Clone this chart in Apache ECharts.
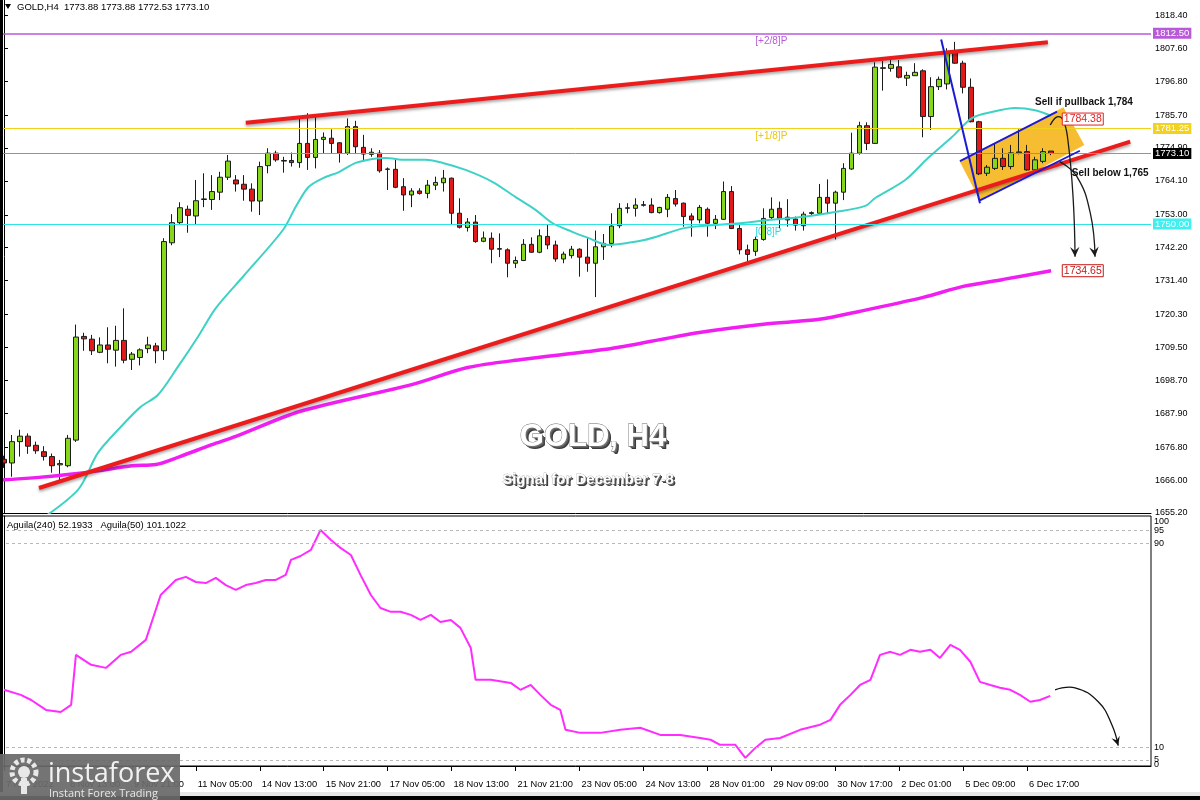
<!DOCTYPE html>
<html><head><meta charset="utf-8">
<script src="https://cdn.jsdelivr.net/npm/echarts@6/dist/echarts.min.js"></script>
<style>html,body{margin:0;padding:0;background:#fff}#c{width:1200px;height:800px}</style>
</head><body><div id="c"></div>
<script>
// ---------- DATA ----------
const times = [
'7 Nov 05:00','7 Nov 09:00','7 Nov 13:00','7 Nov 17:00','7 Nov 21:00',
'8 Nov 01:00','8 Nov 05:00','8 Nov 09:00','8 Nov 13:00','8 Nov 17:00','8 Nov 21:00',
'9 Nov 01:00','9 Nov 05:00','9 Nov 09:00','9 Nov 13:00','9 Nov 17:00','9 Nov 21:00',
'10 Nov 01:00','10 Nov 05:00','10 Nov 09:00','10 Nov 13:00','10 Nov 17:00','10 Nov 21:00',
'11 Nov 01:00','11 Nov 05:00','11 Nov 09:00','11 Nov 13:00','11 Nov 17:00','11 Nov 21:00',
'14 Nov 01:00','14 Nov 05:00','14 Nov 09:00','14 Nov 13:00','14 Nov 17:00','14 Nov 21:00',
'15 Nov 01:00','15 Nov 05:00','15 Nov 09:00','15 Nov 13:00','15 Nov 17:00','15 Nov 21:00',
'16 Nov 01:00','16 Nov 05:00','16 Nov 09:00','16 Nov 13:00','16 Nov 17:00','16 Nov 21:00',
'17 Nov 01:00','17 Nov 05:00','17 Nov 09:00','17 Nov 13:00','17 Nov 17:00','17 Nov 21:00',
'18 Nov 01:00','18 Nov 05:00','18 Nov 09:00','18 Nov 13:00','18 Nov 17:00','18 Nov 21:00',
'21 Nov 01:00','21 Nov 05:00','21 Nov 09:00','21 Nov 13:00','21 Nov 17:00','21 Nov 21:00',
'22 Nov 01:00','22 Nov 05:00','22 Nov 09:00','22 Nov 13:00','22 Nov 17:00','22 Nov 21:00',
'23 Nov 01:00','23 Nov 05:00','23 Nov 09:00','23 Nov 13:00','23 Nov 17:00','23 Nov 21:00',
'24 Nov 01:00','24 Nov 05:00','24 Nov 09:00','24 Nov 13:00','24 Nov 17:00','24 Nov 21:00',
'25 Nov 01:00','25 Nov 05:00','25 Nov 09:00','25 Nov 13:00','25 Nov 17:00',
'28 Nov 01:00','28 Nov 05:00','28 Nov 09:00','28 Nov 13:00','28 Nov 17:00','28 Nov 21:00',
'29 Nov 01:00','29 Nov 05:00','29 Nov 09:00','29 Nov 13:00','29 Nov 17:00','29 Nov 21:00',
'30 Nov 01:00','30 Nov 05:00','30 Nov 09:00','30 Nov 13:00','30 Nov 17:00','30 Nov 21:00',
'1 Dec 01:00','1 Dec 05:00','1 Dec 09:00','1 Dec 13:00','1 Dec 17:00','1 Dec 21:00',
'2 Dec 01:00','2 Dec 05:00','2 Dec 09:00','2 Dec 13:00','2 Dec 17:00','2 Dec 21:00',
'5 Dec 01:00','5 Dec 05:00','5 Dec 09:00','5 Dec 13:00','5 Dec 17:00','5 Dec 21:00',
'6 Dec 01:00','6 Dec 05:00','6 Dec 09:00','6 Dec 13:00','6 Dec 17:00','6 Dec 21:00',
'7 Dec 01:00','7 Dec 05:00'
];
const futureSlots = ['f1','f2','f3','f4','f5','f6','f7','f8','f9','f10','f11','f12'];
const tickLabels = ['7 Nov 2022','8 Nov 13:00','9 Nov 21:00','11 Nov 05:00','14 Nov 13:00','15 Nov 21:00',
'17 Nov 05:00','18 Nov 13:00','21 Nov 21:00','23 Nov 05:00','24 Nov 13:00','28 Nov 01:00',
'29 Nov 09:00','30 Nov 17:00','2 Dec 01:00','5 Dec 09:00','6 Dec 17:00'];
// [open, high, low, close]
const ohlc = [
[1672.8,1674.0,1670.0,1671.6],[1671.6,1680.8,1667.1,1678.6],[1678.6,1682.5,1673.7,1680.4],[1680.4,1681.3,1674.6,1677.1],
[1677.4,1678.6,1674.6,1675.6],[1675.3,1677.1,1672.4,1673.7],[1673.7,1674.7,1668.4,1670.7],[1671.0,1672.6,1666.0,1671.4],
[1670.7,1680.8,1670.2,1679.7],[1679.1,1717.0,1678.5,1712.9],[1713.1,1714.3,1708.4,1712.3],[1712.2,1713.6,1707.0,1708.4],
[1707.9,1712.8,1707.6,1710.3],[1710.3,1716.1,1704.3,1708.9],[1708.6,1716.6,1703.2,1711.8],[1711.8,1722.3,1704.3,1705.3],
[1705.6,1708.0,1702.1,1707.3],[1706.2,1709.2,1703.6,1708.7],[1709.1,1713.0,1707.6,1710.3],[1710.0,1711.0,1704.3,1708.4],
[1708.4,1745.3,1705.4,1744.2],[1743.8,1753.2,1743.0,1750.4],[1750.4,1757.1,1750.0,1755.3],[1754.8,1756.0,1747.1,1752.8],
[1752.6,1764.4,1749.7,1757.6],[1758.0,1766.6,1755.5,1758.2],[1758.0,1766.0,1754.6,1760.6],[1760.4,1767.1,1757.8,1765.3],
[1765.3,1772.6,1764.4,1770.6],[1764.4,1766.0,1760.6,1763.1],[1763.0,1766.0,1757.6,1761.4],[1761.4,1763.3,1754.0,1757.5],
[1757.5,1770.4,1752.9,1768.8],[1769.1,1774.8,1766.6,1773.2],[1773.2,1774.0,1770.4,1771.0],[1770.6,1772.0,1766.8,1770.8],
[1770.8,1773.4,1768.8,1770.1],[1770.1,1784.6,1768.4,1776.4],[1776.4,1786.3,1767.7,1771.8],[1771.8,1785.2,1768.2,1777.7],
[1777.7,1780.0,1773.2,1778.4],[1778.1,1781.0,1773.2,1776.4],[1776.6,1776.8,1770.1,1773.2],[1773.2,1784.6,1772.6,1781.9],
[1781.9,1783.8,1772.9,1775.3],[1775.1,1779.2,1770.4,1772.9],[1772.8,1774.8,1772.0,1773.5],[1773.2,1774.2,1766.8,1767.4],
[1768.0,1768.5,1761.1,1767.9],[1767.9,1771.0,1761.7,1762.0],[1762.2,1765.0,1754.3,1759.5],[1759.5,1761.7,1755.5,1760.8],
[1760.8,1761.7,1759.6,1760.0],[1760.0,1764.4,1758.4,1762.7],[1762.7,1765.5,1761.1,1763.6],[1763.5,1767.7,1760.6,1765.0],
[1765.0,1765.2,1749.7,1753.5],[1753.5,1758.4,1748.5,1748.9],[1748.8,1751.9,1747.5,1750.6],[1750.6,1752.9,1743.8,1744.2],
[1744.3,1747.5,1744.0,1745.4],[1745.3,1747.2,1737.1,1741.7],[1741.7,1746.9,1739.1,1741.9],[1741.5,1742.0,1732.5,1737.1],
[1737.1,1739.3,1735.5,1738.0],[1738.0,1745.0,1737.8,1743.3],[1743.3,1745.6,1740.5,1740.7],[1740.7,1748.2,1740.4,1746.1],
[1745.9,1749.7,1741.7,1743.1],[1743.1,1744.5,1737.6,1738.5],[1738.5,1740.9,1737.1,1740.1],[1739.6,1742.8,1738.7,1741.7],
[1741.7,1742.0,1732.7,1739.1],[1739.1,1745.3,1734.3,1737.1],[1737.1,1747.8,1726.0,1742.5],[1742.5,1746.7,1738.2,1743.6],
[1743.6,1753.5,1742.3,1749.3],[1749.4,1756.8,1748.6,1755.1],[1755.1,1756.8,1753.5,1755.3],[1755.1,1758.4,1752.4,1756.2],
[1756.3,1757.5,1755.7,1756.1],[1756.2,1758.4,1753.5,1753.7],[1753.7,1755.6,1753.4,1755.4],[1754.8,1759.8,1752.2,1758.7],
[1758.3,1761.1,1755.7,1756.5],[1756.8,1757.0,1749.1,1752.4],[1752.6,1753.5,1745.8,1751.3],[1751.3,1756.2,1750.2,1755.4],
[1754.8,1755.4,1745.8,1750.2],[1750.2,1752.9,1748.3,1751.5],[1751.5,1763.9,1751.3,1760.6],[1760.6,1762.4,1748.3,1748.5],
[1748.5,1749.8,1740.0,1741.5],[1741.5,1743.2,1737.8,1740.0],[1741.0,1745.8,1739.5,1744.9],[1744.9,1755.1,1744.5,1751.8],
[1752.1,1758.7,1751.3,1754.8],[1755.1,1757.3,1748.6,1751.8],[1752.2,1758.1,1749.1,1751.3],[1751.6,1752.4,1747.8,1749.6],
[1749.4,1754.0,1747.8,1753.2],[1753.4,1754.1,1752.9,1753.7],[1753.5,1763.1,1752.9,1758.7],[1758.7,1764.6,1753.2,1756.8],
[1756.8,1760.9,1744.9,1760.4],[1760.4,1769.9,1757.8,1768.2],[1768.0,1779.9,1767.7,1773.2],[1773.2,1783.5,1772.7,1782.2],
[1782.2,1783.3,1774.2,1776.4],[1776.4,1803.0,1776.2,1801.4],[1801.0,1803.5,1793.7,1801.2],[1801.0,1803.7,1799.9,1802.3],
[1801.5,1803.7,1797.7,1798.1],[1797.8,1799.9,1795.2,1798.7],[1798.6,1802.7,1798.5,1799.7],[1800.2,1800.7,1778.4,1785.2],
[1785.2,1798.1,1780.8,1795.0],[1795.0,1798.3,1793.9,1797.4],[1795.9,1807.6,1794.1,1806.5],[1806.5,1809.7,1802.5,1802.7],
[1802.7,1803.5,1792.8,1794.8],[1794.8,1797.7,1783.3,1783.5],[1783.5,1783.8,1766.0,1766.4],[1766.6,1769.3,1765.7,1768.6],
[1768.2,1776.2,1767.7,1771.5],[1771.5,1774.8,1767.7,1768.8],[1768.8,1775.9,1767.9,1773.3],[1773.3,1781.0,1772.8,1773.6],
[1773.7,1775.9,1767.5,1767.7],[1767.7,1772.0,1767.1,1771.0],[1770.5,1774.8,1769.9,1773.7],[1773.88,1773.88,1772.53,1773.10]
];
// moving averages: [bar index, price]
const maFast = [[4,1652],[9.25,1662.8],[11.75,1674.9],[14.6,1683.4],[17.1,1690],[19.25,1693.9],[21.75,1703.1],
[24.25,1712.9],[26.5,1722.4],[30,1733],[34.9,1748],[36.5,1755.6],[38.1,1762.1],[40,1765.1],[41.9,1767],[44,1770],
[46.1,1771.3],[47.75,1771.6],[50.25,1771],[52.75,1771],[54.9,1770],[57.75,1767.7],[61.1,1763.8],[64,1758.8],
[66.5,1754.6],[68.6,1750.3],[71.1,1747.4],[73.1,1745.4],[75.6,1743.1],[78.1,1743.8],[80.25,1744.8],[81.5,1745.7],
[85.25,1748.7],[89.4,1749.7],[92.4,1750.3],[95.6,1751.3],[99.9,1752.3],[104,1753.9],[107.75,1755.9],[109,1758.5],
[112.75,1764.4],[115.6,1771.6],[118.6,1778.5],[121.1,1784.7],[123.6,1786.7],[126.5,1788],[129,1787.3],[131,1785.5]];
const maSlow = [[-0.5,1666.0],[4,1666.8],[8,1667.8],[12,1669.1],[16,1670.7],[19,1671.1],[22,1673.7],[26,1677.6],
[29,1680.3],[37,1688.5],[51,1697.3],[58,1702.9],[65,1705.6],[75,1708.8],[81,1711.5],[87,1714.4],[95,1717.1],
[102,1718.7],[107,1721.3],[115,1725.9],[120,1729.5],[125,1731.8],[131,1734.65]];
// oscillator (Aguila): [bar index, value]
const aguila = [[0,32.5],[2.1,30.5],[3.4,28.5],[5.25,24.6],[7.1,23.8],[8.4,26.6],[9,46.2],[10.9,42.3],[12.75,41.1],
[14.6,46.2],[15.9,47.4],[17.75,52.1],[19.6,69.7],[21.5,75.6],[22.75,76.8],[24,74.8],[25.25,74.4],[26.5,76.4],
[27.75,73.6],[29,71.7],[30.25,73.6],[31.5,74.4],[32.75,75.6],[34,75.6],[35.25,77.6],[35.9,83.5],[37.1,85.0],
[38.4,87.4],[39.6,95.2],[40.9,91.3],[42.1,88.2],[43.4,85.4],[44.6,77.6],[45.9,69.7],[47.1,64.6],[48.4,63.1],
[49.6,63.1],[50.9,61.9],[52.1,59.9],[53.4,61.9],[54.6,59.1],[55.9,59.9],[57.1,56.8],[58.4,48.9],[59,36.4],
[60.9,36.4],[63.4,35.2],[64.6,32.5],[65.9,34.4],[67.1,30.5],[68.4,26.6],[69.6,24.6],[70.25,16.8],[72.1,15.6],
[74.6,15.6],[77.1,16.8],[79.6,17.6],[82.1,14.8],[84.6,14.8],[87.1,13.6],[88.4,12.9],[89.6,10.9],[91.5,10.9],
[92.75,5.8],[94,9.7],[95.25,12.9],[97.1,13.6],[99.6,16.8],[102.1,18.8],[103.4,20.7],[104.6,26.6],[105.9,30.5],
[107.1,34.4],[108.4,36.4],[109.6,46.2],[110.9,47.4],[112.1,46.2],[113.4,48.2],[114.6,47.4],[115.9,48.2],
[117.1,45.0],[118.4,50.1],[119.6,48.2],[120.9,43.5],[122.1,35.6],[123.4,34.4],[124.6,33.3],[125.9,32.5],
[127.1,30.5],[128.4,27.8],[129.6,28.5],[130.9,30.1]];
const priceTicks = [1818.40,1807.60,1796.80,1785.70,1774.90,1764.10,1753.00,1742.20,1731.40,1720.30,1709.50,1698.70,1687.90,1676.80,1666.00,1655.20];
const oscLevels = [100,95,90,10,5,0];
const oscDashed = [95,90,10,5];
const levelValues = [1812.50,1781.25,1750.00];
const levelNames = ['[+2/8]P','[+1/8]P','[0/8]P'];
const lastPrice = 1773.10;
const header = 'GOLD,H4  1773.88 1773.88 1772.53 1773.10';
const subHeader = 'Aguila(240) 52.1933   Aguila(50) 101.1022';
// drawings: [bar index, price]
const upperTrend = [[30.25,1783.2],[130.6,1809.6]];
const lowerTrend = [[4.375,1663.4],[140.9,1776.96]];
const blueDrop = [[117.25,1810.5],[122.1,1756.8]];
const channelTop = [[119.6,1770.6],[131.75,1786.8]];
const channelBottom = [[122.1,1757.7],[134.6,1774.0]];
const flagBox = [[119.54,1770.63],[132.54,1788.24],[135.16,1775.88],[122.13,1757.58]];
const arrowA = [[130.9,1782.4],[131.75,1785.1],[132.5,1784.1],[133.1,1777.5],[133.75,1758.8],[134.0,1739.2]];
const arrowB = [[132.1,1770.4],[134.25,1765.4],[135.9,1753.6],[136.5,1739.2]];
const arrowOsc = [[131.5,32.5],[134,33.3],[136.9,27.8],[138.6,18.8],[139.4,10.6]];
const pullbackPrice = 1784.38, targetPrice = 1734.65;
const notes = ['Sell if pullback 1,784','Sell below 1,765'];

// ---------- CHART ----------
const cats = times.concat(futureSlots);
const N = cats.length;
const oscMin = 2.6, oscMax = 100.7;
const chart = echarts.init(document.getElementById('c'));
const FONT = '"Liberation Sans", Arial, sans-serif';

const option = {
  animation:false,
  backgroundColor:'#ffffff',
  grid:[
    {left:-1, top:0, width:1152, height:513},
    {left:-1, top:516, width:1152, height:250, show:true, borderColor:'#000', borderWidth:1}
  ],
  xAxis:[
    {type:'category', gridIndex:0, data:cats, boundaryGap:true,
      axisLine:{show:true, lineStyle:{color:'#000'}}, axisTick:{show:false}, axisLabel:{show:false}, splitLine:{show:false}},
    {type:'category', gridIndex:1, data:cats, boundaryGap:true,
      axisLine:{show:true, lineStyle:{color:'#000'}},
      axisTick:{show:true, alignWithLabel:true, interval:(i)=> i%8===0 && i<times.length, length:5, lineStyle:{color:'#000'}},
      axisLabel:{interval:(i)=> i%8===0 && i<times.length, formatter:(v,i)=> tickLabels[i/8]||'', align:'left',
        fontSize:9.3, color:'#000', fontFamily:FONT, margin:14, padding:[0,0,0,2]},
      splitLine:{show:false}},
    {type:'value', gridIndex:0, min:-0.5, max:N-0.5, show:false},
    {type:'value', gridIndex:1, min:-0.5, max:N-0.5, show:false}
  ],
  yAxis:[
    {type:'value', gridIndex:0, position:'right', min:1655.2, max:1823.42,
      axisLine:{show:true, lineStyle:{color:'#000'}},
      axisTick:{show:true, customValues:priceTicks, length:4, lineStyle:{color:'#000'}},
      axisLabel:{customValues:priceTicks, formatter:(v)=>v.toFixed(2), fontSize:9, color:'#000', margin:4, fontFamily:FONT},
      splitLine:{show:false}},
    {type:'value', gridIndex:1, position:'right', min:oscMin, max:oscMax,
      axisLine:{show:true, lineStyle:{color:'#000'}},
      axisTick:{show:false}, axisLabel:{show:false}, splitLine:{show:false}}
  ],
  series:[
    {type:'line', name:'levels', xAxisIndex:2, yAxisIndex:0, data:[[-5,1700]], symbol:'none', z:1,
      lineStyle:{opacity:0},
      markLine:{silent:true, symbol:'none', animation:false,
        data:[
          {yAxis:levelValues[0], lineStyle:{color:'#b85ad8', width:1.5, type:'solid'},
            label:{formatter:levelValues[0].toFixed(2), backgroundColor:'#b85ad8'}},
          {yAxis:levelValues[1], lineStyle:{color:'#f0d21a', width:1, type:'solid'},
            label:{formatter:levelValues[1].toFixed(2), backgroundColor:'#f2d21e'}},
          {yAxis:lastPrice, lineStyle:{color:'#8a96a4', width:1, type:'solid'},
            label:{formatter:lastPrice.toFixed(2), backgroundColor:'#000'}},
          {yAxis:levelValues[2], lineStyle:{color:'#30e4e4', width:1, type:'solid'},
            label:{formatter:levelValues[2].toFixed(2), backgroundColor:'#3ef0f0'}}
        ],
        label:{show:true, position:'end', distance:2, color:'#fff', fontSize:9.5, fontFamily:FONT, padding:[1,2,0,2]}
      }},
    {type:'candlestick', name:'GOLD', xAxisIndex:0, yAxisIndex:0, z:2, barWidth:5,
      data: ohlc.map(d=>[d[0], d[3], d[2], d[1]]),
      itemStyle:{color:'#86d61c', color0:'#e01a1a', borderColor:'#1c1c1c', borderColor0:'#1c1c1c', borderWidth:1}},
    {type:'line', name:'MA fast', xAxisIndex:2, yAxisIndex:0, data:maFast, symbol:'none', smooth:0.3, z:3,
      lineStyle:{color:'#3ed2c6', width:2}},
    {type:'line', name:'MA slow', xAxisIndex:2, yAxisIndex:0, data:maSlow, symbol:'none', smooth:0.3, z:3,
      lineStyle:{color:'#f01ef0', width:3.5}},
    {type:'line', name:'upper', xAxisIndex:2, yAxisIndex:0, data:upperTrend, symbol:'none', z:4,
      lineStyle:{color:'#ec1c1c', width:4, shadowColor:'rgba(0,0,0,0.35)', shadowBlur:3, shadowOffsetY:2}},
    {type:'line', name:'lower', xAxisIndex:2, yAxisIndex:0, data:lowerTrend, symbol:'none', z:4,
      lineStyle:{color:'#ec1c1c', width:4, shadowColor:'rgba(0,0,0,0.35)', shadowBlur:3, shadowOffsetY:2}},
    {type:'line', name:'drop', xAxisIndex:2, yAxisIndex:0, data:blueDrop, symbol:'none', z:5,
      lineStyle:{color:'#1b1bd6', width:2}},
    {type:'line', name:'chTop', xAxisIndex:2, yAxisIndex:0, data:channelTop, symbol:'none', z:5,
      lineStyle:{color:'#1b1bd6', width:1.8}},
    {type:'line', name:'chBot', xAxisIndex:2, yAxisIndex:0, data:channelBottom, symbol:'none', z:5,
      lineStyle:{color:'#1b1bd6', width:1.8}},
    {type:'line', name:'Aguila', xAxisIndex:3, yAxisIndex:1, data:aguila, symbol:'none', z:3,
      lineStyle:{color:'#ff2cff', width:2},
      markLine:{silent:true, symbol:'none', label:{show:false},
        lineStyle:{color:'#b8b8b8', type:[3,3], width:1},
        data: oscDashed.map(v=>({yAxis:v}))}}
  ]
};
chart.setOption(option);

// ---------- ANNOTATIONS ----------
const P = (pt)=> chart.convertToPixel({xAxisIndex:2, yAxisIndex:0}, pt);
const Q = (pt)=> chart.convertToPixel({xAxisIndex:3, yAxisIndex:1}, pt);
const g = [];
// oscillator axis labels (MT4 keeps them inside the sub-window)
oscLevels.forEach(v=>{
  const y = Math.min(Math.max(Q([0, Math.max(v, oscMin)])[1], 522), 765);
  g.push({type:'text', z:50, x:1154, y:y, style:{text:String(v), fill:'#000', font:'9px '+FONT, verticalAlign:'middle'}});
});
// flag box (under candles)
g.push({type:'polygon', z:0, shape:{points: flagBox.map(P)}, style:{fill:'rgba(246,182,28,0.9)'}});
// level names
const levelColors = ['#b85ad8','#e8c810','#34d8d8'];
levelValues.forEach((v,k)=>{
  const p = P([94, v]);
  g.push({type:'text', z:0, x:p[0], y:p[1]+3, style:{text:levelNames[k], fill:levelColors[k], font:'10px '+FONT}});
});
// arrows
function arrowHead(end, ang, size, fill){
  const a = ang, s = size;
  const l = [end[0] - s*Math.cos(a-0.45), end[1] - s*Math.sin(a-0.45)];
  const r = [end[0] - s*Math.cos(a+0.45), end[1] - s*Math.sin(a+0.45)];
  const m = [end[0] - s*0.55*Math.cos(a), end[1] - s*0.55*Math.sin(a)];
  return {type:'polygon', z:60, shape:{points:[end,l,m,r]}, style:{fill:fill}};
}
[arrowA, arrowB].forEach(arr=>{
  const pts = arr.map(P);
  g.push({type:'polyline', z:60, shape:{points:pts, smooth:0.45}, style:{stroke:'#1a1a1a', lineWidth:1.3, fill:null}});
  const e = pts[pts.length-1], b = pts[pts.length-2];
  g.push(arrowHead(e, Math.atan2(e[1]-b[1], e[0]-b[0]), 11, '#1a1a1a'));
});
{
  const pts = arrowOsc.map(Q);
  g.push({type:'polyline', z:60, shape:{points:pts, smooth:0.45}, style:{stroke:'#111', lineWidth:1.3, fill:null}});
  const e = pts[pts.length-1], b = pts[pts.length-2];
  g.push(arrowHead(e, Math.atan2(e[1]-b[1], e[0]-b[0]), 10, '#111'));
}
// notes
{
  const p1 = P([129, 1789.75]);
  g.push({type:'text', z:70, x:p1[0], y:p1[1], style:{text:notes[0], fill:'#111', font:'bold 10px '+FONT, verticalAlign:'middle'}});
  const p2 = P([133.6, 1766.5]);
  g.push({type:'text', z:70, x:p2[0], y:p2[1], style:{text:notes[1], fill:'#111', font:'bold 10px '+FONT, verticalAlign:'middle'}});
}
// price boxes
[[pullbackPrice,'#e02424'],[targetPrice,'#c81818']].forEach(([v,c])=>{
  const p = P([132.4, v]);
  g.push({type:'rect', z:70, shape:{x:p[0], y:p[1]-6, width:41, height:12}, style:{fill:'#fff', stroke:c, lineWidth:1}});
  g.push({type:'text', z:71, x:p[0]+20.5, y:p[1], style:{text:v.toFixed(2), fill:c, font:'10.5px '+FONT, align:'center', verticalAlign:'middle'}});
});
// titles: dark extruded shadow + white face
[[3,3,'#3a3a3a'],[2,2,'#555'],[1,1,'#777']].forEach(([dx,dy,c])=>{
  g.push({type:'text', z:79, x:593+dx, y:437+dy, style:{text:'GOLD, H4', fill:c, font:'bold 31px '+FONT, align:'center', verticalAlign:'middle'}});
});
g.push({type:'text', z:80, x:593, y:437, style:{text:'GOLD, H4', fill:'#ffffff', stroke:'#666', lineWidth:0.8,
  font:'bold 31px '+FONT, align:'center', verticalAlign:'middle'}});
[[2,2,'#3a3a3a'],[1,1,'#666']].forEach(([dx,dy,c])=>{
  g.push({type:'text', z:79, x:588+dx, y:480+dy, style:{text:'Signal for December 7-8', fill:c, font:'bold 15px '+FONT, align:'center', verticalAlign:'middle'}});
});
g.push({type:'text', z:80, x:588, y:480, style:{text:'Signal for December 7-8', fill:'#ffffff', stroke:'#777', lineWidth:0.4,
  font:'bold 15px '+FONT, align:'center', verticalAlign:'middle'}});
// headers
g.push({type:'polygon', z:80, shape:{points:[[5,4],[11,4],[8,9]]}, style:{fill:'#000'}});
g.push({type:'text', z:80, x:17, y:7, style:{text:header, fill:'#000', font:'9.5px '+FONT, verticalAlign:'middle'}});
g.push({type:'text', z:80, x:7, y:525, style:{text:subHeader, fill:'#000', font:'9.5px '+FONT, verticalAlign:'middle'}});
// window frame
g.push({type:'rect', z:90, shape:{x:0, y:0, width:3, height:800}, style:{fill:'#000'}});
g.push({type:'rect', z:90, shape:{x:0, y:792, width:1200, height:4}, style:{fill:'#e6e6e6'}});
g.push({type:'rect', z:90, shape:{x:0, y:796, width:1200, height:4}, style:{fill:'#000'}});
// logo
g.push({type:'rect', z:95, shape:{x:0, y:754, width:180, height:46}, style:{fill:'rgba(105,105,105,0.93)'}});
g.push({type:'circle', z:96, shape:{cx:24, cy:772, r:12}, style:{fill:null, stroke:'#e8e8e8', lineWidth:5, lineDash:[4,2.6]}});
g.push({type:'circle', z:96, shape:{cx:24, cy:772, r:6}, style:{fill:'#e8e8e8'}});
g.push({type:'rect', z:96, shape:{x:21, y:778, width:6, height:16}, style:{fill:'#e8e8e8'}});
g.push({type:'text', z:96, x:48, y:774, style:{text:'instaforex', fill:'#f2f2f2', font:'27px "Open Sans", sans-serif', verticalAlign:'middle'}});
g.push({type:'text', z:96, x:49, y:794, style:{text:'Instant Forex Trading', fill:'#e6e6e6', font:'11px "Open Sans", sans-serif', verticalAlign:'middle'}});
chart.setOption({graphic: g.map(e=>Object.assign({silent:true}, e))});
</script></body></html>
